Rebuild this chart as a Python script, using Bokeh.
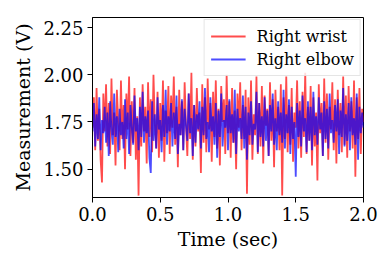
from bokeh.plotting import figure
from bokeh.models import FixedTicker, NumeralTickFormatter, Legend, LegendItem
from bokeh.embed import file_html
from bokeh.resources import INLINE

sample_step = 0.01  # seconds between samples

right_wrist = [
    1.72, 1.88, 1.60, 1.93, 1.65, 1.82, 1.55, 1.43, 1.90, 1.70,
    1.95, 1.62, 1.85, 1.58, 1.98, 1.68, 1.80, 1.52, 1.92, 1.75,
    1.60, 1.97, 1.66, 1.84, 1.50, 1.90, 1.71, 1.99, 1.57, 1.86,
    1.64, 1.93, 1.55, 1.78, 1.36, 1.88, 1.62, 1.95, 1.70, 1.83,
    1.53, 1.96, 1.67, 1.87, 1.59, 2.00, 1.74, 1.61, 1.91, 1.56,
    1.85, 1.65, 1.97, 1.54, 1.81, 1.69, 1.94, 1.58, 1.89, 1.72,
    1.99, 1.63, 1.83, 1.51, 1.92, 1.68, 1.86, 1.60, 1.96, 1.73,
    1.57, 1.90, 1.66, 2.01, 1.55, 1.84, 1.62, 1.93, 1.70, 1.80,
    1.48, 1.95, 1.64, 1.88, 1.59, 1.98, 1.71, 1.85, 1.54, 1.91,
    1.67, 1.97, 1.61, 1.82, 1.52, 1.94, 1.75, 1.87, 1.58, 2.00,
    1.69, 1.86, 1.56, 1.93, 1.64, 1.81, 1.50, 1.90, 1.72, 1.96,
    1.60, 1.84, 1.66, 1.92, 1.37, 1.88, 1.63, 1.97, 1.55, 1.79,
    1.68, 1.99, 1.58, 1.85, 1.62, 1.94, 1.53, 1.89, 1.73, 1.82,
    1.57, 1.96, 1.65, 1.87, 1.51, 1.92, 1.70, 1.83, 1.60, 1.95,
    1.36, 1.88, 1.66, 1.99, 1.59, 1.84, 1.63, 1.93, 1.54, 1.80,
    1.72, 1.97, 1.61, 1.86, 1.56, 1.91, 1.67, 2.01, 1.58, 1.83,
    1.65, 1.94, 1.52, 1.88, 1.62, 1.80, 1.44, 1.95, 1.69, 1.85,
    1.57, 1.98, 1.64, 1.90, 1.55, 1.83, 1.71, 1.96, 1.60, 1.87,
    1.53, 1.92, 1.68, 1.85, 1.59, 1.99, 1.63, 1.89, 1.56, 1.94,
    1.70, 1.86, 1.61, 1.97, 1.46, 1.88, 1.66, 1.93, 1.58, 1.82, 1.75,
]

right_elbow = [
    1.70, 1.85, 1.62, 1.79, 1.66, 1.88, 1.60, 1.76, 1.69, 1.83,
    1.64, 1.80, 1.57, 1.86, 1.71, 1.63, 1.90, 1.67, 1.78, 1.59,
    1.82, 1.68, 1.75, 1.61, 1.87, 1.66, 1.80, 1.58, 1.84, 1.72,
    1.63, 1.89, 1.70, 1.77, 1.60, 1.83, 1.67, 1.91, 1.64, 1.78,
    1.69, 1.81, 1.56, 1.48, 1.86, 1.65, 1.79, 1.61, 1.88, 1.71,
    1.76, 1.59, 1.84, 1.67, 1.92, 1.63, 1.78, 1.70, 1.85, 1.62,
    1.80, 1.66, 1.89, 1.58, 1.74, 1.68, 1.87, 1.60, 1.82, 1.73,
    1.65, 1.90, 1.69, 1.77, 1.57, 1.84, 1.64, 1.79, 1.71, 1.86,
    1.61, 1.83, 1.68, 1.93, 1.66, 1.75, 1.59, 1.88, 1.70, 1.78,
    1.63, 1.85, 1.56, 1.81, 1.67, 1.90, 1.62, 1.76, 1.72, 1.84,
    1.60, 1.87, 1.69, 1.79, 1.64, 1.92, 1.58, 1.82, 1.70, 1.77,
    1.66, 1.89, 1.61, 1.83, 1.55, 1.80, 1.68, 1.86, 1.63, 1.74,
    1.71, 1.91, 1.59, 1.85, 1.67, 1.78, 1.62, 1.88, 1.65, 1.81,
    1.57, 1.84, 1.70, 1.90, 1.63, 1.77, 1.60, 1.86, 1.68, 1.80,
    1.64, 1.92, 1.61, 1.79, 1.69, 1.87, 1.58, 1.83, 1.66, 1.75,
    1.46, 1.85, 1.67, 1.81, 1.62, 1.89, 1.70, 1.77, 1.59, 1.86,
    1.65, 1.83, 1.60, 1.91, 1.68, 1.78, 1.63, 1.88, 1.71, 1.80,
    1.57, 1.86, 1.66, 1.82, 1.61, 1.90, 1.69, 1.76, 1.64, 1.84,
    1.70, 1.87, 1.58, 1.81, 1.67, 1.93, 1.62, 1.79, 1.65, 1.85,
    1.60, 1.88, 1.68, 1.77, 1.63, 1.90, 1.55, 1.83, 1.69, 1.80, 1.72,
]

time = [i * sample_step for i in range(len(right_wrist))]

x_ticks = [0.0, 0.5, 1.0, 1.5, 2.0]
y_ticks = [1.50, 1.75, 2.00, 2.25]

SERIF = "DejaVu Serif"

p = figure(width=382, height=256, output_backend="svg", toolbar_location=None,
           x_range=(0, 2.0), y_range=(1.35, 2.303),
           min_border_left=92, min_border_top=17, min_border_right=19, min_border_bottom=59)
p.grid.visible = False
p.outline_line_color = "black"
p.outline_line_width = 1
p.background_fill_color = "white"
p.border_fill_color = "white"

r1 = p.line(time, right_wrist, line_color="red", line_alpha=0.7, line_width=1.8)
r2 = p.line(time, right_elbow, line_color="blue", line_alpha=0.7, line_width=1.8)

for ax in (p.xaxis[0], p.yaxis[0]):
    ax.major_label_text_font = SERIF
    ax.major_label_text_font_size = "18px"
    ax.major_label_text_color = "black"
    ax.axis_label_text_font = SERIF
    ax.axis_label_text_font_size = "19px"
    ax.axis_label_text_font_style = "normal"
    ax.axis_label_text_color = "black"
    ax.axis_line_color = "black"
    ax.major_tick_line_color = "black"
    ax.major_tick_out = 5
    ax.major_tick_in = 0
    ax.minor_tick_line_color = None
    ax.major_label_standoff = 4

p.xaxis[0].ticker = FixedTicker(ticks=x_ticks)
p.xaxis[0].formatter = NumeralTickFormatter(format="0.0")
p.xaxis[0].axis_label = "Time (sec)"
p.xaxis[0].axis_label_standoff = 4
p.yaxis[0].ticker = FixedTicker(ticks=y_ticks)
p.yaxis[0].formatter = NumeralTickFormatter(format="0.00")
p.yaxis[0].axis_label = "Measurement (V)"
p.yaxis[0].axis_label_standoff = 6

legend = Legend(items=[LegendItem(label="Right wrist", renderers=[r1]),
                       LegendItem(label="Right elbow", renderers=[r2])],
                location="top_right", margin=2, padding=6, spacing=3,
                glyph_width=35, glyph_height=20, label_height=20, label_standoff=11,
                label_text_font=SERIF, label_text_font_size="16px",
                label_text_color="black",
                border_line_color="#cccccc", border_line_width=1,
                background_fill_alpha=0.8)
p.add_layout(legend)

open("out.html", "w").write(file_html(p, INLINE))
